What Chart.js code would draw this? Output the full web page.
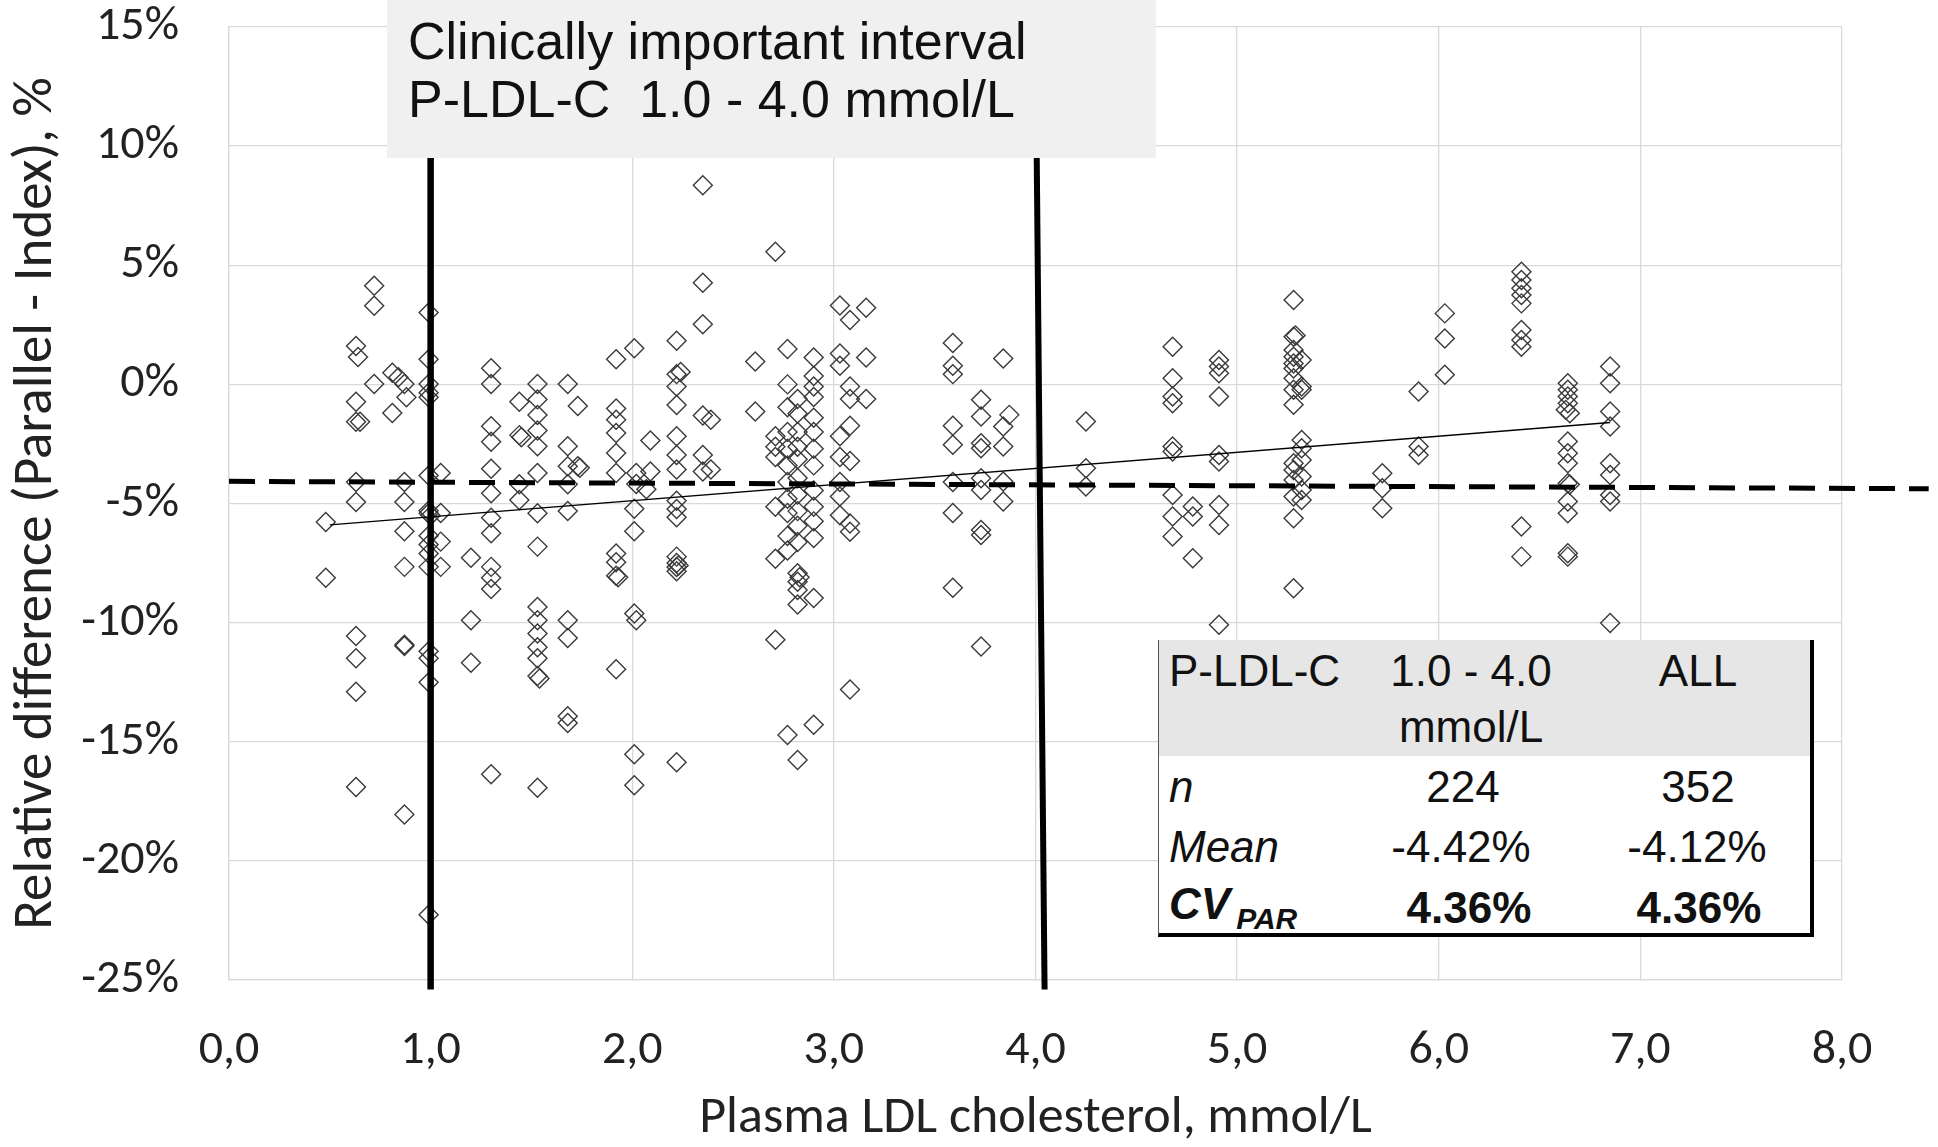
<!DOCTYPE html>
<html>
<head>
<meta charset="utf-8">
<script src="https://cdn.jsdelivr.net/npm/chart.js@4.4.0/dist/chart.umd.min.js"></script>
<style>
html,body{margin:0;padding:0;background:#fff;}
#wrap{position:relative;width:1938px;height:1147px;overflow:hidden;}
#c{position:absolute;left:0;top:0;}
#note{position:absolute;left:387px;top:0;width:769px;height:158px;background:#f0f0f0;font-family:'Liberation Sans',Arial,sans-serif;font-size:52px;color:#111;}
#note div{position:absolute;left:21px;white-space:nowrap;line-height:1;transform:translateY(-50%);}
#stats{position:absolute;left:1158px;top:640px;width:651px;height:293px;background:#fff;border-left:1px solid #555;border-right:4px solid #000;border-bottom:4px solid #000;font-family:'Liberation Sans',Arial,sans-serif;font-size:44px;color:#111;}
#stats .hdr{position:absolute;left:0;top:0;width:100%;height:116px;background:#e6e6e6;}
#stats .cell{position:absolute;white-space:nowrap;line-height:1;transform:translate(-50%,-50%);}
#stats .lft{transform:translate(0,-50%);}
#stats i{font-style:italic;}
#stats b{font-weight:bold;}
#stats sub{font-size:30px;vertical-align:-10px;margin-left:6px;}
</style>
</head>
<body>
<div id="wrap">
<canvas id="c" width="1938" height="1147"></canvas>
<div id="note">
  <div style="top:41px">Clinically important interval</div>
  <div style="top:99px">P-LDL-C&nbsp;&nbsp;1.0 - 4.0 mmol/L</div>
</div>
<div id="stats">
  <div class="hdr"></div>
  <div class="cell lft" style="left:10px;top:31px">P-LDL-C</div>
  <div class="cell" style="left:312px;top:31px">1.0 - 4.0</div>
  <div class="cell" style="left:312px;top:87px">mmol/L</div>
  <div class="cell" style="left:539px;top:31px">ALL</div>
  <div class="cell lft" style="left:10px;top:147px"><i>n</i></div>
  <div class="cell" style="left:304px;top:147px">224</div>
  <div class="cell" style="left:539px;top:147px">352</div>
  <div class="cell lft" style="left:10px;top:207px"><i>Mean</i></div>
  <div class="cell" style="left:302px;top:207px">-4.42%</div>
  <div class="cell" style="left:538px;top:207px">-4.12%</div>
  <div class="cell lft" style="left:10px;top:268px"><b><i>CV<sub>PAR</sub></i></b></div>
  <div class="cell" style="left:310px;top:268px"><b>4.36%</b></div>
  <div class="cell" style="left:540px;top:268px"><b>4.36%</b></div>
</div>
</div>
<script>
// Plasma LDL cholesterol (mmol/L) and relative difference (%) pairs
const measurements = [
  [0.48,-5.78],[0.48,-8.12],
  [0.63,1.61],[0.64,1.15],[0.63,-0.73],[0.63,-1.57],[0.65,-1.57],[0.63,-4.1],[0.63,-4.94],[0.63,-10.56],[0.63,-11.5],[0.63,-12.9],[0.63,-16.9],
  [0.72,4.14],[0.72,3.3],[0.72,0.02],
  [0.81,0.49],[0.81,-1.2],[0.84,0.3],[0.87,0.02],[0.88,-0.54],
  [0.87,-4.1],[0.87,-4.94],[0.87,-6.16],[0.87,-7.66],[0.87,-10.93],[0.87,-10.98],[0.87,-18.05],
  [0.99,3.02],[0.99,1.05],[0.99,0.02],[0.99,-0.35],[0.99,-0.54],[0.99,-3.82],[0.99,-5.41],[1.0,-5.5],[0.99,-5.3],[0.99,-6.35],[0.99,-6.72],[0.99,-7.1],[0.99,-7.66],[0.99,-11.2],[0.99,-11.5],[0.99,-12.5],[0.99,-22.26],
  [1.05,-3.72],[1.05,-5.4],[1.05,-6.6],[1.05,-7.66],
  [1.2,-7.28],[1.2,-9.9],[1.2,-11.68],
  [1.3,0.68],[1.3,0.02],[1.3,-1.76],[1.3,-2.41],[1.3,-3.54],[1.3,-4.57],[1.3,-5.6],[1.3,-6.25],[1.3,-7.66],[1.3,-8.12],[1.3,-8.59],[1.3,-16.36],
  [1.44,-0.73],[1.44,-2.13],[1.45,-2.22],[1.44,-4.19],[1.44,-4.85],
  [1.53,0.02],[1.53,-0.63],[1.53,-1.29],[1.53,-1.94],[1.53,-2.6],[1.53,-3.72],[1.53,-5.41],[1.53,-6.81],[1.53,-9.34],[1.53,-9.9],[1.53,-10.46],[1.53,-11.03],[1.53,-11.5],[1.53,-12.24],[1.54,-12.35],[1.53,-16.93],
  [1.68,0.02],[1.68,-2.6],[1.68,-3.44],[1.68,-4.19],[1.68,-5.31],[1.68,-9.9],[1.68,-10.65],[1.68,-13.93],[1.68,-14.21],
  [1.73,-0.91],[1.73,-3.44],[1.74,-3.5],
  [1.92,1.05],[1.92,-1.01],[1.92,-1.48],[1.92,-2.04],[1.92,-2.88],[1.92,-3.72],[1.92,-7.1],[1.92,-7.47],[1.92,-8.03],[1.93,-8.1],[1.92,-11.96],
  [2.01,1.52],[2.02,-3.72],[2.02,-4.18],[2.01,-5.22],[2.01,-6.16],[2.01,-9.62],[2.02,-9.9],[2.01,-15.52],[2.01,-16.83],
  [2.09,-2.36],[2.09,-3.66],[2.07,-4.4],
  [2.22,1.83],[2.22,0.43],[2.24,0.52],[2.22,-0.09],[2.22,-0.87],[2.22,-2.18],[2.22,-2.96],[2.22,-3.57],[2.22,-4.88],[2.22,-5.23],[2.22,-5.58],[2.22,-7.23],[2.22,-7.5],[2.23,-7.6],[2.22,-7.67],[2.22,-7.84],[2.22,-15.86],
  [2.35,8.36],[2.35,4.27],[2.35,2.52],[2.35,-1.31],[2.35,-2.96],[2.35,-3.66],
  [2.39,-1.48],[2.39,-3.57],
  [2.61,0.96],[2.61,-1.14],
  [2.71,5.57],[2.71,-2.18],[2.71,-2.62],[2.71,-3.05],[2.71,-5.14],[2.71,-7.32],[2.71,-10.72],
  [2.77,1.48],[2.77,0],[2.77,-0.96],[2.77,-2.0],[2.77,-2.7],[2.77,-3.4],[2.77,-4.1],[2.77,-4.8],[2.77,-5.4],[2.77,-6.36],[2.77,-6.97],[2.77,-14.72],
  [2.82,-0.61],[2.82,-1.22],[2.82,-2.0],[2.82,-2.62],[2.82,-3.14],[2.82,-3.93],[2.82,-4.62],[2.82,-5.32],[2.82,-5.93],[2.82,-6.62],[2.82,-7.93],[2.82,-8.28],[2.83,-8.1],[2.82,-8.63],[2.82,-9.24],[2.82,-15.77],
  [2.9,1.13],[2.9,0.35],[2.9,-0.09],[2.9,-0.53],[2.9,-1.4],[2.9,-2.0],[2.9,-2.7],[2.9,-3.4],[2.9,-4.45],[2.9,-5.14],[2.9,-5.75],[2.9,-6.45],[2.9,-8.97],[2.9,-14.29],
  [3.03,3.31],[3.03,1.3],[3.03,0.78],[3.03,-2.18],[3.03,-3.05],[3.03,-4.1],[3.03,-4.71],[3.03,-5.49],
  [3.08,2.7],[3.08,-0.09],[3.08,-0.61],[3.08,-1.74],[3.08,-3.22],[3.08,-5.84],[3.08,-6.19],[3.08,-12.81],
  [3.16,3.22],[3.16,1.13],[3.16,-0.61],
  [3.59,1.74],[3.59,0.78],[3.59,0.43],[3.59,-1.74],[3.59,-2.53],[3.59,-4.1],[3.59,-5.4],[3.59,-8.54],
  [3.73,-0.65],[3.73,-1.35],[3.73,-2.47],[3.73,-2.68],[3.73,-3.94],[3.73,-4.43],[3.73,-6.11],[3.73,-6.32],[3.73,-11.0],
  [3.84,1.09],[3.84,-1.77],[3.84,-2.61],[3.84,-4.08],[3.84,-4.92],[3.87,-1.28],
  [4.25,-1.56],[4.25,-3.52],[4.25,-4.29],
  [4.68,1.58],[4.68,0.26],[4.68,-0.51],[4.68,-0.79],[4.68,-2.61],[4.68,-2.82],[4.68,-4.64],[4.68,-5.55],[4.68,-6.39],
  [4.78,-5.13],[4.78,-5.55],[4.78,-7.3],
  [4.91,1.02],[4.91,0.75],[4.91,0.47],[4.91,-0.51],[4.91,-2.96],[4.91,-3.24],[4.91,-5.06],[4.91,-5.9],[4.91,-10.09],
  [5.28,3.54],[5.28,2.0],[5.29,2.05],[5.28,1.44],[5.28,1.16],[5.28,0.88],[5.28,0.67],[5.28,0.26],[5.28,-0.23],[5.28,-0.86],[5.28,-3.31],[5.28,-3.59],[5.28,-4.01],[5.28,-4.71],[5.28,-5.62],[5.28,-8.56],
  [5.32,1.02],[5.32,-0.09],[5.32,-0.23],[5.32,-2.33],[5.32,-2.68],[5.32,-3.17],[5.32,-3.87],[5.32,-4.43],[5.32,-4.85],
  [5.72,-3.73],[5.72,-4.36],[5.72,-5.2],
  [5.9,-0.3],[5.9,-2.61],[5.9,-2.96],
  [6.03,2.98],[6.03,1.93],[6.03,0.4],
  [6.41,4.73],[6.41,4.38],[6.41,4.03],[6.41,3.75],[6.41,3.4],[6.41,2.28],[6.41,1.86],[6.41,1.58],[6.41,-5.97],[6.41,-7.23],
  [6.64,0.05],[6.64,-0.23],[6.64,-0.51],[6.64,-0.79],[6.63,-1.07],[6.65,-1.21],[6.64,-2.4],[6.64,-2.89],[6.64,-3.31],[6.64,-4.15],[6.65,-4.2],[6.64,-4.92],[6.64,-5.41],[6.64,-7.09],[6.64,-7.23],
  [6.85,0.75],[6.85,0.05],[6.85,-1.14],[6.85,-1.77],[6.85,-3.31],[6.85,-3.8],[6.85,-4.64],[6.85,-4.92],[6.85,-10.02]
];
const trendLine = [[0.5,-5.9],[6.85,-1.6]];
const meanLine = [[0,-4.07],[8.43,-4.38]];
const lowerLimitLine = [[1.0,15],[1.0,-25.4]];
const upperLimitLine = [[4.0,15],[4.045,-25.4]];
const xTicks = [0,1,2,3,4,5,6,7,8];
const yTicks = [-25,-20,-15,-10,-5,0,5,10,15];

const toXY = arr => arr.map(p => ({x:p[0], y:p[1]}));
const axisFont = "Carlito, Lato, 'Open Sans', sans-serif";

new Chart(document.getElementById('c'), {
  type: 'scatter',
  data: {
    datasets: [
      {label:'Measurements', data: toXY(measurements), pointStyle:'rectRot', pointRadius:9.5, pointHoverRadius:9.5,
       borderColor:'#3a3a3a', backgroundColor:'rgba(255,255,255,0)', borderWidth:1.4, order:10},
      {type:'line', label:'Trend', data: toXY(trendLine), borderColor:'#000', borderWidth:1.3, pointRadius:0, order:4},
      {type:'line', label:'Mean', data: toXY(meanLine), borderColor:'#000', borderWidth:5, borderDash:[26,14], pointRadius:0, clip:false, order:3},
      {type:'line', label:'1.0', data: toXY(lowerLimitLine), borderColor:'#000', borderWidth:6.5, pointRadius:0, clip:false, order:2},
      {type:'line', label:'4.0', data: toXY(upperLimitLine), borderColor:'#000', borderWidth:6, pointRadius:0, clip:false, order:1}
    ]
  },
  options: {
    responsive:false, animation:false,
    layout:{padding:{top:27, right:96, left:0, bottom:0}},
    plugins:{legend:{display:false}, tooltip:{enabled:false}},
    scales:{
      x:{type:'linear', min:0, max:8,
         afterBuildTicks: s => { s.ticks = xTicks.map(v => ({value:v})); },
         ticks:{callback: v => v.toFixed(1).replace('.', ','), font:{family:axisFont, size:48}, color:'#222', padding:42, maxRotation:0},
         grid:{color:'#d9d9d9', lineWidth:1.3, drawTicks:false},
         border:{color:'#d9d9d9', width:1.3},
         title:{display:true, text:'Plasma LDL cholesterol, mmol/L', font:{family:axisFont, size:52, lineHeight:1.0}, color:'#222', padding:{top:0,bottom:2}},
         afterFit: s => { s.height = 167; s.paddingLeft = 0; s.paddingRight = 0; }},
      y:{min:-25, max:15,
         afterBuildTicks: s => { s.ticks = yTicks.map(v => ({value:v})); },
         ticks:{callback: v => v + '%', font:{family:axisFont, size:48}, color:'#222', padding:50},
         grid:{color:'#d9d9d9', lineWidth:1.3, drawTicks:false},
         border:{color:'#d9d9d9', width:1.3},
         title:{display:true, text:'Relative difference (Parallel - Index), %', font:{family:axisFont, size:55, lineHeight:1.0}, color:'#222', padding:{top:10,bottom:0}},
         afterFit: s => { s.width = 229; s.paddingTop = 0; s.paddingBottom = 0; }}
    }
  }
});
</script>
</body>
</html>
